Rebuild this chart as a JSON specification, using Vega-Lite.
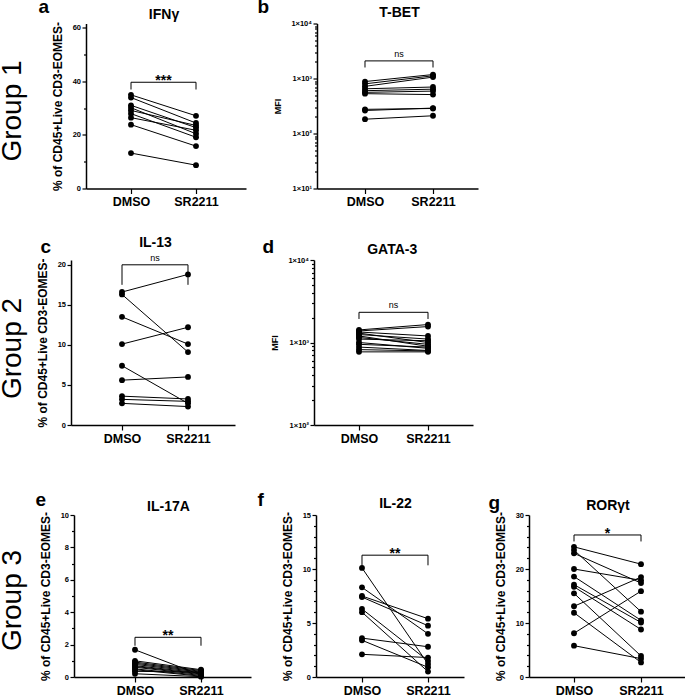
{
"$schema": "https://vega.github.io/schema/vega-lite/v6.json",
"padding": {"left": -9, "top": -2.5, "right": 0, "bottom": 0},
"config": {
 "view": {"stroke": null},
 "font": "Liberation Sans",
 "axis": {"grid": false, "domainColor": "black", "tickColor": "black", "labelColor": "black", "titleColor": "black", "labelFont": "Liberation Sans", "titleFont": "Liberation Sans", "labelFontWeight": "bold", "titleFontWeight": "bold", "domainWidth": 1.5, "tickWidth": 1.2},
 "title": {"color": "black", "font": "Liberation Sans", "fontWeight": "bold"}
},
"datasets": {
 "pts": [
  {"panel":"a","donor":1,"DMSO":34.9,"SR2211":27.1},
  {"panel":"a","donor":2,"DMSO":33.9,"SR2211":24.4},
  {"panel":"a","donor":3,"DMSO":31.0,"SR2211":22.7},
  {"panel":"a","donor":4,"DMSO":30.1,"SR2211":20.4},
  {"panel":"a","donor":5,"DMSO":29.1,"SR2211":23.5},
  {"panel":"a","donor":6,"DMSO":27.9,"SR2211":19.1},
  {"panel":"a","donor":7,"DMSO":26.4,"SR2211":21.7},
  {"panel":"a","donor":8,"DMSO":23.8,"SR2211":15.8},
  {"panel":"a","donor":9,"DMSO":13.2,"SR2211":8.7},
  {"panel":"b","donor":1,"DMSO":880,"SR2211":1180},
  {"panel":"b","donor":2,"DMSO":800,"SR2211":1120},
  {"panel":"b","donor":3,"DMSO":720,"SR2211":1060},
  {"panel":"b","donor":4,"DMSO":650,"SR2211":700},
  {"panel":"b","donor":5,"DMSO":600,"SR2211":640},
  {"panel":"b","donor":6,"DMSO":560,"SR2211":590},
  {"panel":"b","donor":7,"DMSO":530,"SR2211":510},
  {"panel":"b","donor":8,"DMSO":275,"SR2211":285},
  {"panel":"b","donor":9,"DMSO":262,"SR2211":290},
  {"panel":"b","donor":10,"DMSO":182,"SR2211":210},
  {"panel":"c","donor":1,"DMSO":16.6,"SR2211":18.8},
  {"panel":"c","donor":2,"DMSO":16.3,"SR2211":9.1},
  {"panel":"c","donor":3,"DMSO":13.5,"SR2211":10.1},
  {"panel":"c","donor":4,"DMSO":10.1,"SR2211":12.2},
  {"panel":"c","donor":5,"DMSO":7.4,"SR2211":2.7},
  {"panel":"c","donor":6,"DMSO":5.6,"SR2211":6.0},
  {"panel":"c","donor":7,"DMSO":3.6,"SR2211":3.25},
  {"panel":"c","donor":8,"DMSO":3.2,"SR2211":2.95},
  {"panel":"c","donor":9,"DMSO":2.7,"SR2211":2.3},
  {"panel":"d","donor":1,"DMSO":1420,"SR2211":1650},
  {"panel":"d","donor":2,"DMSO":1380,"SR2211":1560},
  {"panel":"d","donor":3,"DMSO":1340,"SR2211":1200},
  {"panel":"d","donor":4,"DMSO":1300,"SR2211":1000},
  {"panel":"d","donor":5,"DMSO":1250,"SR2211":1100},
  {"panel":"d","donor":6,"DMSO":1200,"SR2211":900},
  {"panel":"d","donor":7,"DMSO":1150,"SR2211":950},
  {"panel":"d","donor":8,"DMSO":1100,"SR2211":1050},
  {"panel":"d","donor":9,"DMSO":1000,"SR2211":850},
  {"panel":"d","donor":10,"DMSO":950,"SR2211":880},
  {"panel":"d","donor":11,"DMSO":880,"SR2211":800},
  {"panel":"d","donor":12,"DMSO":820,"SR2211":790},
  {"panel":"d","donor":13,"DMSO":770,"SR2211":770},
  {"panel":"e","donor":1,"DMSO":1.68,"SR2211":0.12},
  {"panel":"e","donor":2,"DMSO":1.0,"SR2211":0.45},
  {"panel":"e","donor":3,"DMSO":0.92,"SR2211":0.40},
  {"panel":"e","donor":4,"DMSO":0.85,"SR2211":0.35},
  {"panel":"e","donor":5,"DMSO":0.78,"SR2211":0.30},
  {"panel":"e","donor":6,"DMSO":0.70,"SR2211":0.25},
  {"panel":"e","donor":7,"DMSO":0.65,"SR2211":0.20},
  {"panel":"e","donor":8,"DMSO":0.60,"SR2211":0.15},
  {"panel":"e","donor":9,"DMSO":0.50,"SR2211":0.10},
  {"panel":"e","donor":10,"DMSO":0.45,"SR2211":0.05},
  {"panel":"e","donor":11,"DMSO":0.35,"SR2211":0.30},
  {"panel":"e","donor":12,"DMSO":0.20,"SR2211":0.02},
  {"panel":"f","donor":1,"DMSO":10.1,"SR2211":1.2},
  {"panel":"f","donor":2,"DMSO":8.3,"SR2211":4.0},
  {"panel":"f","donor":3,"DMSO":7.5,"SR2211":5.4},
  {"panel":"f","donor":4,"DMSO":7.4,"SR2211":4.75},
  {"panel":"f","donor":5,"DMSO":6.3,"SR2211":1.5},
  {"panel":"f","donor":6,"DMSO":6.0,"SR2211":0.5},
  {"panel":"f","donor":7,"DMSO":3.6,"SR2211":2.8},
  {"panel":"f","donor":8,"DMSO":3.4,"SR2211":0.9},
  {"panel":"f","donor":9,"DMSO":2.1,"SR2211":1.8},
  {"panel":"g","donor":1,"DMSO":24.1,"SR2211":20.9},
  {"panel":"g","donor":2,"DMSO":23.5,"SR2211":12.1},
  {"panel":"g","donor":3,"DMSO":22.9,"SR2211":17.4},
  {"panel":"g","donor":4,"DMSO":20.0,"SR2211":17.9},
  {"panel":"g","donor":5,"DMSO":18.6,"SR2211":10.5},
  {"panel":"g","donor":6,"DMSO":17.1,"SR2211":10.1},
  {"panel":"g","donor":7,"DMSO":16.7,"SR2211":8.8},
  {"panel":"g","donor":8,"DMSO":15.5,"SR2211":3.9},
  {"panel":"g","donor":9,"DMSO":13.1,"SR2211":18.5},
  {"panel":"g","donor":10,"DMSO":11.9,"SR2211":2.7},
  {"panel":"g","donor":11,"DMSO":8.1,"SR2211":15.9},
  {"panel":"g","donor":12,"DMSO":5.8,"SR2211":3.4}
 ],
 "brk": [
  {"panel":"a","cond":"DMSO","value":36.9,"o":1},{"panel":"a","cond":"DMSO","value":39.6,"o":2},{"panel":"a","cond":"SR2211","value":39.6,"o":3},{"panel":"a","cond":"SR2211","value":36.9,"o":4},
  {"panel":"b","cond":"DMSO","value":1585,"o":1},{"panel":"b","cond":"DMSO","value":2090,"o":2},{"panel":"b","cond":"SR2211","value":2090,"o":3},{"panel":"b","cond":"SR2211","value":1585,"o":4},
  {"panel":"c","cond":"DMSO","value":17.5,"o":1},{"panel":"c","cond":"DMSO","value":20.0,"o":2},{"panel":"c","cond":"SR2211","value":20.0,"o":3},{"panel":"c","cond":"SR2211","value":17.5,"o":4},
  {"panel":"d","cond":"DMSO","value":1928,"o":1},{"panel":"d","cond":"DMSO","value":2323,"o":2},{"panel":"d","cond":"SR2211","value":2323,"o":3},{"panel":"d","cond":"SR2211","value":1928,"o":4},
  {"panel":"e","cond":"DMSO","value":1.93,"o":1},{"panel":"e","cond":"DMSO","value":2.45,"o":2},{"panel":"e","cond":"SR2211","value":2.45,"o":3},{"panel":"e","cond":"SR2211","value":1.93,"o":4},
  {"panel":"f","cond":"DMSO","value":10.34,"o":1},{"panel":"f","cond":"DMSO","value":11.28,"o":2},{"panel":"f","cond":"SR2211","value":11.28,"o":3},{"panel":"f","cond":"SR2211","value":10.34,"o":4},
  {"panel":"g","cond":"DMSO","value":25.1,"o":1},{"panel":"g","cond":"DMSO","value":26.3,"o":2},{"panel":"g","cond":"SR2211","value":26.3,"o":3},{"panel":"g","cond":"SR2211","value":25.1,"o":4}
 ],
 "sig": [
  {"panel":"a","cond":"mid","value":39.6,"label":"***"},
  {"panel":"b","cond":"mid","value":2090,"label":"ns"},
  {"panel":"c","cond":"mid","value":20.0,"label":"ns"},
  {"panel":"d","cond":"mid","value":2323,"label":"ns"},
  {"panel":"e","cond":"mid","value":2.45,"label":"**"},
  {"panel":"f","cond":"mid","value":11.28,"label":"**"},
  {"panel":"g","cond":"mid","value":26.3,"label":"*"}
 ]
},
"spacing": 45.5,
"vconcat": [
 {
 "spacing": 26.5,
 "vconcat": [
  {
  "bounds": "flush",
  "spacing": 71,
  "hconcat": [
   {"width": 24, "height": 1, "data": {"values": [{}]}, "mark": "text", "encoding": {"text": {"value": ""}}},
   {
    "width": 160, "height": 165,
    "resolve": {"axis": {"x": "independent", "y": "independent"}},
    "layer": [
     {"data": {"name": "pts"}, "transform": [{"filter": "datum.panel=='a'"}, {"fold": ["DMSO", "SR2211"], "as": ["cond", "value"]}],
      "mark": {"type": "line", "color": "black", "strokeWidth": 1},
      "encoding": {
       "x": {"field": "cond", "type": "nominal", "scale": {"type": "point", "domain": ["L", "DMSO", "mid", "SR2211", "R"], "padding": 0.4615, "align": 0.4167}, "axis": {"orient": "top", "title": "IFNγ", "labels": false, "ticks": false, "domain": false, "titleFontSize": 14, "titleX": 77.5, "titleY": -5, "titleAlign": "center", "titleBaseline": "alphabetic"}},
       "y": {"field": "value", "type": "quantitative", "scale": {"domain": [0, 61.5], "nice": false}, "axis": {"title": "% of CD45+Live CD3-EOMES-", "values": [0, 10, 20, 30, 40, 50, 60], "labelExpr": "datum.value % 20 == 0 ? datum.label : ''", "tickSize": {"condition": {"test": "datum.value % 20 == 0", "value": 4}, "value": 2.5}, "labelFontSize": 7.5, "labelPadding": 1.5, "titleFontSize": 12, "titlePadding": 8}},
       "detail": {"field": "donor", "type": "nominal"}}},
     {"data": {"name": "pts"}, "transform": [{"filter": "datum.panel=='a'"}, {"fold": ["DMSO", "SR2211"], "as": ["cond", "value"]}],
      "mark": {"type": "circle", "color": "black", "size": 34, "opacity": 1},
      "encoding": {
       "x": {"field": "cond", "type": "nominal", "scale": {"type": "point", "domain": ["L", "DMSO", "mid", "SR2211", "R"], "padding": 0.4615, "align": 0.4167}, "axis": {"orient": "bottom", "values": ["DMSO", "SR2211"], "title": null, "labelFontSize": 12.5, "tickSize": 5, "labelPadding": 2, "labelAngle": 0}},
       "y": {"field": "value", "type": "quantitative", "scale": {"domain": [0, 61.5], "nice": false}, "axis": {"orient": "right", "title": "Group 1", "labels": false, "ticks": false, "domain": false, "titleFontSize": 28, "titleFontWeight": "normal", "titleAngle": 270, "titleAlign": "center", "titleBaseline": "middle", "titleX": -234, "titleY": 87}}}},
     {"data": {"name": "brk"}, "transform": [{"filter": "datum.panel=='a'"}],
      "mark": {"type": "line", "color": "black", "strokeWidth": 1},
      "encoding": {
       "x": {"field": "cond", "type": "nominal", "scale": {"type": "point", "domain": ["L", "DMSO", "mid", "SR2211", "R"], "padding": 0.4615, "align": 0.4167}, "axis": {"orient": "top", "title": "a", "labels": false, "ticks": false, "domain": false, "titleFontSize": 19, "titleX": -48, "titleY": -11, "titleAlign": "left", "titleBaseline": "alphabetic"}},
       "y": {"field": "value", "type": "quantitative", "scale": {"domain": [0, 61.5], "nice": false}, "axis": null},
       "order": {"field": "o", "type": "quantitative"}}},
     {"data": {"name": "sig"}, "transform": [{"filter": "datum.panel=='a'"}],
      "mark": {"type": "text", "font": "Liberation Sans", "fontWeight": "bold", "fontSize": 14, "baseline": "alphabetic", "dy": 3, "color": "black"},
      "encoding": {
       "x": {"field": "cond", "type": "nominal", "scale": {"type": "point", "domain": ["L", "DMSO", "mid", "SR2211", "R"], "padding": 0.4615, "align": 0.4167}, "axis": null},
       "y": {"field": "value", "type": "quantitative", "scale": {"domain": [0, 61.5], "nice": false}, "axis": null},
       "text": {"field": "label"}}}
    ]
   },
   {
    "width": 161, "height": 165,
    "resolve": {"axis": {"x": "independent", "y": "independent"}},
    "layer": [
     {"data": {"name": "pts"}, "transform": [{"filter": "datum.panel=='b'"}, {"fold": ["DMSO", "SR2211"], "as": ["cond", "value"]}],
      "mark": {"type": "line", "color": "black", "strokeWidth": 1},
      "encoding": {
       "x": {"field": "cond", "type": "nominal", "scale": {"type": "point", "domain": ["L", "DMSO", "mid", "SR2211", "R"], "padding": 0.3676, "align": 0.56}, "axis": {"orient": "top", "title": "T-BET", "labels": false, "ticks": false, "domain": false, "titleFontSize": 14, "titleX": 82, "titleY": -7, "titleAlign": "center", "titleBaseline": "alphabetic"}},
       "y": {"field": "value", "type": "quantitative", "scale": {"type": "log", "domain": [10, 10000], "nice": false}, "axis": {"title": "MFI", "values": [10, 20, 30, 40, 50, 60, 70, 80, 90, 100, 200, 300, 400, 500, 600, 700, 800, 900, 1000, 2000, 3000, 4000, 5000, 6000, 7000, 8000, 9000, 10000], "labelExpr": "datum.value == 10 ? '1×10¹' : datum.value == 100 ? '1×10²' : datum.value == 1000 ? '1×10³' : datum.value == 10000 ? '1×10⁴' : ''", "tickSize": {"condition": {"test": "datum.value == 10 || datum.value == 100 || datum.value == 1000 || datum.value == 10000", "value": 4}, "value": 2.5}, "labelFontSize": 7.5, "labelPadding": 1.5, "labelOverlap": false, "titleFontSize": 9, "titlePadding": 8}},
       "detail": {"field": "donor", "type": "nominal"}}},
     {"data": {"name": "pts"}, "transform": [{"filter": "datum.panel=='b'"}, {"fold": ["DMSO", "SR2211"], "as": ["cond", "value"]}],
      "mark": {"type": "circle", "color": "black", "size": 34, "opacity": 1},
      "encoding": {
       "x": {"field": "cond", "type": "nominal", "scale": {"type": "point", "domain": ["L", "DMSO", "mid", "SR2211", "R"], "padding": 0.3676, "align": 0.56}, "axis": {"orient": "bottom", "values": ["DMSO", "SR2211"], "title": null, "labelFontSize": 12.5, "tickSize": 5, "labelPadding": 2, "labelAngle": 0}},
       "y": {"field": "value", "type": "quantitative", "scale": {"type": "log", "domain": [10, 10000], "nice": false}, "axis": null}}},
     {"data": {"name": "brk"}, "transform": [{"filter": "datum.panel=='b'"}],
      "mark": {"type": "line", "color": "black", "strokeWidth": 1},
      "encoding": {
       "x": {"field": "cond", "type": "nominal", "scale": {"type": "point", "domain": ["L", "DMSO", "mid", "SR2211", "R"], "padding": 0.3676, "align": 0.56}, "axis": {"orient": "top", "title": "b", "labels": false, "ticks": false, "domain": false, "titleFontSize": 19, "titleX": -60, "titleY": -11, "titleAlign": "left", "titleBaseline": "alphabetic"}},
       "y": {"field": "value", "type": "quantitative", "scale": {"type": "log", "domain": [10, 10000], "nice": false}, "axis": null},
       "order": {"field": "o", "type": "quantitative"}}},
     {"data": {"name": "sig"}, "transform": [{"filter": "datum.panel=='b'"}],
      "mark": {"type": "text", "font": "Liberation Sans", "fontWeight": "normal", "fontSize": 9, "baseline": "alphabetic", "dy": -4, "color": "black"},
      "encoding": {
       "x": {"field": "cond", "type": "nominal", "scale": {"type": "point", "domain": ["L", "DMSO", "mid", "SR2211", "R"], "padding": 0.3676, "align": 0.56}, "axis": null},
       "y": {"field": "value", "type": "quantitative", "scale": {"type": "log", "domain": [10, 10000], "nice": false}, "axis": null},
       "text": {"field": "label"}}}
    ]
   }
  ]
  },
  {
  "bounds": "flush",
  "spacing": 79,
  "hconcat": [
   {"width": 1, "height": 1, "data": {"values": [{}]}, "mark": "text", "encoding": {"text": {"value": ""}}},
   {
    "width": 164, "height": 165,
    "resolve": {"axis": {"x": "independent", "y": "independent"}},
    "layer": [
     {"data": {"name": "pts"}, "transform": [{"filter": "datum.panel=='c'"}, {"fold": ["DMSO", "SR2211"], "as": ["cond", "value"]}],
      "mark": {"type": "line", "color": "black", "strokeWidth": 1},
      "encoding": {
       "x": {"field": "cond", "type": "nominal", "scale": {"type": "point", "domain": ["L", "DMSO", "mid", "SR2211", "R"], "padding": 0.485, "align": 0.5625}, "axis": {"orient": "top", "title": "IL-13", "labels": false, "ticks": false, "domain": false, "titleFontSize": 14, "titleX": 84, "titleY": -14, "titleAlign": "center", "titleBaseline": "alphabetic"}},
       "y": {"field": "value", "type": "quantitative", "scale": {"domain": [0, 20.6], "nice": false}, "axis": {"title": "% of CD45+Live CD3-EOMES-", "values": [0, 5, 10, 15, 20], "tickSize": 4, "labelFontSize": 7.5, "labelPadding": 1.5, "titleFontSize": 12, "titlePadding": 8}},
       "detail": {"field": "donor", "type": "nominal"}}},
     {"data": {"name": "pts"}, "transform": [{"filter": "datum.panel=='c'"}, {"fold": ["DMSO", "SR2211"], "as": ["cond", "value"]}],
      "mark": {"type": "circle", "color": "black", "size": 34, "opacity": 1},
      "encoding": {
       "x": {"field": "cond", "type": "nominal", "scale": {"type": "point", "domain": ["L", "DMSO", "mid", "SR2211", "R"], "padding": 0.485, "align": 0.5625}, "axis": {"orient": "bottom", "values": ["DMSO", "SR2211"], "title": null, "labelFontSize": 12.5, "tickSize": 5, "labelPadding": 2, "labelAngle": 0}},
       "y": {"field": "value", "type": "quantitative", "scale": {"domain": [0, 20.6], "nice": false}, "axis": {"orient": "right", "title": "Group 2", "labels": false, "ticks": false, "domain": false, "titleFontSize": 28, "titleFontWeight": "normal", "titleAngle": 270, "titleAlign": "center", "titleBaseline": "middle", "titleX": -223, "titleY": 88}}}},
     {"data": {"name": "brk"}, "transform": [{"filter": "datum.panel=='c'"}],
      "mark": {"type": "line", "color": "black", "strokeWidth": 1},
      "encoding": {
       "x": {"field": "cond", "type": "nominal", "scale": {"type": "point", "domain": ["L", "DMSO", "mid", "SR2211", "R"], "padding": 0.485, "align": 0.5625}, "axis": {"orient": "top", "title": "c", "labels": false, "ticks": false, "domain": false, "titleFontSize": 19, "titleX": -31, "titleY": -8, "titleAlign": "left", "titleBaseline": "alphabetic"}},
       "y": {"field": "value", "type": "quantitative", "scale": {"domain": [0, 20.6], "nice": false}, "axis": null},
       "order": {"field": "o", "type": "quantitative"}}},
     {"data": {"name": "sig"}, "transform": [{"filter": "datum.panel=='c'"}],
      "mark": {"type": "text", "font": "Liberation Sans", "fontWeight": "normal", "fontSize": 9, "baseline": "alphabetic", "dy": -4, "color": "black"},
      "encoding": {
       "x": {"field": "cond", "type": "nominal", "scale": {"type": "point", "domain": ["L", "DMSO", "mid", "SR2211", "R"], "padding": 0.485, "align": 0.5625}, "axis": null},
       "y": {"field": "value", "type": "quantitative", "scale": {"domain": [0, 20.6], "nice": false}, "axis": null},
       "text": {"field": "label"}}}
    ]
   },
   {
    "width": 159, "height": 165,
    "resolve": {"axis": {"x": "independent", "y": "independent"}},
    "layer": [
     {"data": {"name": "pts"}, "transform": [{"filter": "datum.panel=='d'"}, {"fold": ["DMSO", "SR2211"], "as": ["cond", "value"]}],
      "mark": {"type": "line", "color": "black", "strokeWidth": 1},
      "encoding": {
       "x": {"field": "cond", "type": "nominal", "scale": {"type": "point", "domain": ["L", "DMSO", "mid", "SR2211", "R"], "padding": 0.3043, "align": 0.5}, "axis": {"orient": "top", "title": "GATA-3", "labels": false, "ticks": false, "domain": false, "titleFontSize": 14, "titleX": 77.7, "titleY": -7, "titleAlign": "center", "titleBaseline": "alphabetic"}},
       "y": {"field": "value", "type": "quantitative", "scale": {"type": "log", "domain": [100, 10000], "nice": false}, "axis": {"title": "MFI", "values": [100, 200, 300, 400, 500, 600, 700, 800, 900, 1000, 2000, 3000, 4000, 5000, 6000, 7000, 8000, 9000, 10000], "labelExpr": "datum.value == 100 ? '1×10²' : datum.value == 1000 ? '1×10³' : datum.value == 10000 ? '1×10⁴' : ''", "tickSize": {"condition": {"test": "datum.value == 100 || datum.value == 1000 || datum.value == 10000", "value": 4}, "value": 2.5}, "labelFontSize": 7.5, "labelPadding": 1.5, "labelOverlap": false, "titleFontSize": 9, "titlePadding": 8}},
       "detail": {"field": "donor", "type": "nominal"}}},
     {"data": {"name": "pts"}, "transform": [{"filter": "datum.panel=='d'"}, {"fold": ["DMSO", "SR2211"], "as": ["cond", "value"]}],
      "mark": {"type": "circle", "color": "black", "size": 34, "opacity": 1},
      "encoding": {
       "x": {"field": "cond", "type": "nominal", "scale": {"type": "point", "domain": ["L", "DMSO", "mid", "SR2211", "R"], "padding": 0.3043, "align": 0.5}, "axis": {"orient": "bottom", "values": ["DMSO", "SR2211"], "title": null, "labelFontSize": 12.5, "tickSize": 5, "labelPadding": 2, "labelAngle": 0}},
       "y": {"field": "value", "type": "quantitative", "scale": {"type": "log", "domain": [100, 10000], "nice": false}, "axis": null}}},
     {"data": {"name": "brk"}, "transform": [{"filter": "datum.panel=='d'"}],
      "mark": {"type": "line", "color": "black", "strokeWidth": 1},
      "encoding": {
       "x": {"field": "cond", "type": "nominal", "scale": {"type": "point", "domain": ["L", "DMSO", "mid", "SR2211", "R"], "padding": 0.3043, "align": 0.5}, "axis": {"orient": "top", "title": "d", "labels": false, "ticks": false, "domain": false, "titleFontSize": 19, "titleX": -52, "titleY": -8, "titleAlign": "left", "titleBaseline": "alphabetic"}},
       "y": {"field": "value", "type": "quantitative", "scale": {"type": "log", "domain": [100, 10000], "nice": false}, "axis": null},
       "order": {"field": "o", "type": "quantitative"}}},
     {"data": {"name": "sig"}, "transform": [{"filter": "datum.panel=='d'"}],
      "mark": {"type": "text", "font": "Liberation Sans", "fontWeight": "normal", "fontSize": 9, "baseline": "alphabetic", "dy": -4, "color": "black"},
      "encoding": {
       "x": {"field": "cond", "type": "nominal", "scale": {"type": "point", "domain": ["L", "DMSO", "mid", "SR2211", "R"], "padding": 0.3043, "align": 0.5}, "axis": null},
       "y": {"field": "value", "type": "quantitative", "scale": {"type": "log", "domain": [100, 10000], "nice": false}, "axis": null},
       "text": {"field": "label"}}}
    ]
   }
  ]
  }
 ]
 },
 {
 "bounds": "flush",
 "spacing": 65,
 "hconcat": [
  {"width": 18, "height": 1, "data": {"values": [{}]}, "mark": "text", "encoding": {"text": {"value": ""}}},
  {
   "width": 177, "height": 162,
   "resolve": {"axis": {"x": "independent", "y": "independent"}},
   "layer": [
    {"data": {"name": "pts"}, "transform": [{"filter": "datum.panel=='e'"}, {"fold": ["DMSO", "SR2211"], "as": ["cond", "value"]}],
     "mark": {"type": "line", "color": "black", "strokeWidth": 1},
     "encoding": {
      "x": {"field": "cond", "type": "nominal", "scale": {"type": "point", "domain": ["L", "DMSO", "mid", "SR2211", "R"], "padding": 0.682, "align": 0.622}, "axis": {"orient": "top", "title": "IL-17A", "labels": false, "ticks": false, "domain": false, "titleFontSize": 14, "titleX": 94, "titleY": -5, "titleAlign": "center", "titleBaseline": "alphabetic"}},
      "y": {"field": "value", "type": "quantitative", "scale": {"domain": [0, 10], "nice": false}, "axis": {"title": "% of CD45+Live CD3-EOMES-", "values": [0, 1, 2, 3, 4, 5, 6, 7, 8, 9, 10], "labelExpr": "datum.value % 2 == 0 ? datum.label : ''", "tickSize": {"condition": {"test": "datum.value % 2 == 0", "value": 4}, "value": 2.5}, "labelFontSize": 7.5, "labelPadding": 1.5, "titleFontSize": 12, "titlePadding": 8}},
      "detail": {"field": "donor", "type": "nominal"}}},
    {"data": {"name": "pts"}, "transform": [{"filter": "datum.panel=='e'"}, {"fold": ["DMSO", "SR2211"], "as": ["cond", "value"]}],
     "mark": {"type": "circle", "color": "black", "size": 34, "opacity": 1},
     "encoding": {
      "x": {"field": "cond", "type": "nominal", "scale": {"type": "point", "domain": ["L", "DMSO", "mid", "SR2211", "R"], "padding": 0.682, "align": 0.622}, "axis": {"orient": "bottom", "values": ["DMSO", "SR2211"], "title": null, "labelFontSize": 12.5, "tickSize": 5, "labelPadding": 2, "labelAngle": 0}},
      "y": {"field": "value", "type": "quantitative", "scale": {"domain": [0, 10], "nice": false}, "axis": {"orient": "right", "title": "Group 3", "labels": false, "ticks": false, "domain": false, "titleFontSize": 28, "titleFontWeight": "normal", "titleAngle": 270, "titleAlign": "center", "titleBaseline": "middle", "titleX": -239, "titleY": 85}}}},
    {"data": {"name": "brk"}, "transform": [{"filter": "datum.panel=='e'"}],
     "mark": {"type": "line", "color": "black", "strokeWidth": 1},
     "encoding": {
      "x": {"field": "cond", "type": "nominal", "scale": {"type": "point", "domain": ["L", "DMSO", "mid", "SR2211", "R"], "padding": 0.682, "align": 0.622}, "axis": {"orient": "top", "title": "e", "labels": false, "ticks": false, "domain": false, "titleFontSize": 19, "titleX": -39, "titleY": -10, "titleAlign": "left", "titleBaseline": "alphabetic"}},
      "y": {"field": "value", "type": "quantitative", "scale": {"domain": [0, 10], "nice": false}, "axis": null},
      "order": {"field": "o", "type": "quantitative"}}},
    {"data": {"name": "sig"}, "transform": [{"filter": "datum.panel=='e'"}],
     "mark": {"type": "text", "font": "Liberation Sans", "fontWeight": "bold", "fontSize": 14, "baseline": "alphabetic", "dy": 3, "color": "black"},
     "encoding": {
      "x": {"field": "cond", "type": "nominal", "scale": {"type": "point", "domain": ["L", "DMSO", "mid", "SR2211", "R"], "padding": 0.682, "align": 0.622}, "axis": null},
      "y": {"field": "value", "type": "quantitative", "scale": {"domain": [0, 10], "nice": false}, "axis": null},
      "text": {"field": "label"}}}
   ]
  },
  {
   "width": 148, "height": 162,
   "resolve": {"axis": {"x": "independent", "y": "independent"}},
   "layer": [
    {"data": {"name": "pts"}, "transform": [{"filter": "datum.panel=='f'"}, {"fold": ["DMSO", "SR2211"], "as": ["cond", "value"]}],
     "mark": {"type": "line", "color": "black", "strokeWidth": 1},
     "encoding": {
      "x": {"field": "cond", "type": "nominal", "scale": {"type": "point", "domain": ["L", "DMSO", "mid", "SR2211", "R"], "padding": 0.242, "align": 0.8125}, "axis": {"orient": "top", "title": "IL-22", "labels": false, "ticks": false, "domain": false, "titleFontSize": 14, "titleX": 79, "titleY": -8, "titleAlign": "center", "titleBaseline": "alphabetic"}},
      "y": {"field": "value", "type": "quantitative", "scale": {"domain": [0, 15], "nice": false}, "axis": {"title": "% of CD45+Live CD3-EOMES-", "values": [0, 1, 2, 3, 4, 5, 6, 7, 8, 9, 10, 11, 12, 13, 14, 15], "labelExpr": "datum.value % 5 == 0 ? datum.label : ''", "tickSize": {"condition": {"test": "datum.value % 5 == 0", "value": 4}, "value": 2.5}, "labelFontSize": 7.5, "labelPadding": 1.5, "titleFontSize": 12, "titlePadding": 8}},
      "detail": {"field": "donor", "type": "nominal"}}},
    {"data": {"name": "pts"}, "transform": [{"filter": "datum.panel=='f'"}, {"fold": ["DMSO", "SR2211"], "as": ["cond", "value"]}],
     "mark": {"type": "circle", "color": "black", "size": 34, "opacity": 1},
     "encoding": {
      "x": {"field": "cond", "type": "nominal", "scale": {"type": "point", "domain": ["L", "DMSO", "mid", "SR2211", "R"], "padding": 0.242, "align": 0.8125}, "axis": {"orient": "bottom", "values": ["DMSO", "SR2211"], "title": null, "labelFontSize": 12.5, "tickSize": 5, "labelPadding": 2, "labelAngle": 0}},
      "y": {"field": "value", "type": "quantitative", "scale": {"domain": [0, 15], "nice": false}, "axis": null}}},
    {"data": {"name": "brk"}, "transform": [{"filter": "datum.panel=='f'"}],
     "mark": {"type": "line", "color": "black", "strokeWidth": 1},
     "encoding": {
      "x": {"field": "cond", "type": "nominal", "scale": {"type": "point", "domain": ["L", "DMSO", "mid", "SR2211", "R"], "padding": 0.242, "align": 0.8125}, "axis": {"orient": "top", "title": "f", "labels": false, "ticks": false, "domain": false, "titleFontSize": 19, "titleX": -59, "titleY": -10, "titleAlign": "left", "titleBaseline": "alphabetic"}},
      "y": {"field": "value", "type": "quantitative", "scale": {"domain": [0, 15], "nice": false}, "axis": null},
      "order": {"field": "o", "type": "quantitative"}}},
    {"data": {"name": "sig"}, "transform": [{"filter": "datum.panel=='f'"}],
     "mark": {"type": "text", "font": "Liberation Sans", "fontWeight": "bold", "fontSize": 14, "baseline": "alphabetic", "dy": 3, "color": "black"},
     "encoding": {
      "x": {"field": "cond", "type": "nominal", "scale": {"type": "point", "domain": ["L", "DMSO", "mid", "SR2211", "R"], "padding": 0.242, "align": 0.8125}, "axis": null},
      "y": {"field": "value", "type": "quantitative", "scale": {"domain": [0, 15], "nice": false}, "axis": null},
      "text": {"field": "label"}}}
   ]
  },
  {
   "width": 156, "height": 162,
   "resolve": {"axis": {"x": "independent", "y": "independent"}},
   "layer": [
    {"data": {"name": "pts"}, "transform": [{"filter": "datum.panel=='g'"}, {"fold": ["DMSO", "SR2211"], "as": ["cond", "value"]}],
     "mark": {"type": "line", "color": "black", "strokeWidth": 1},
     "encoding": {
      "x": {"field": "cond", "type": "nominal", "scale": {"type": "point", "domain": ["L", "DMSO", "mid", "SR2211", "R"], "padding": 0.328, "align": 0.523}, "axis": {"orient": "top", "title": "RORγt", "labels": false, "ticks": false, "domain": false, "titleFontSize": 14, "titleX": 78.5, "titleY": -6, "titleAlign": "center", "titleBaseline": "alphabetic"}},
      "y": {"field": "value", "type": "quantitative", "scale": {"domain": [0, 30], "nice": false}, "axis": {"title": "% of CD45+Live CD3-EOMES-", "values": [0, 2, 4, 6, 8, 10, 12, 14, 16, 18, 20, 22, 24, 26, 28, 30], "labelExpr": "datum.value % 10 == 0 ? datum.label : ''", "tickSize": {"condition": {"test": "datum.value % 10 == 0", "value": 4}, "value": 2.5}, "labelFontSize": 7.5, "labelPadding": 1.5, "titleFontSize": 12, "titlePadding": 8}},
      "detail": {"field": "donor", "type": "nominal"}}},
    {"data": {"name": "pts"}, "transform": [{"filter": "datum.panel=='g'"}, {"fold": ["DMSO", "SR2211"], "as": ["cond", "value"]}],
     "mark": {"type": "circle", "color": "black", "size": 34, "opacity": 1},
     "encoding": {
      "x": {"field": "cond", "type": "nominal", "scale": {"type": "point", "domain": ["L", "DMSO", "mid", "SR2211", "R"], "padding": 0.328, "align": 0.523}, "axis": {"orient": "bottom", "values": ["DMSO", "SR2211"], "title": null, "labelFontSize": 12.5, "tickSize": 5, "labelPadding": 2, "labelAngle": 0}},
      "y": {"field": "value", "type": "quantitative", "scale": {"domain": [0, 30], "nice": false}, "axis": null}}},
    {"data": {"name": "brk"}, "transform": [{"filter": "datum.panel=='g'"}],
     "mark": {"type": "line", "color": "black", "strokeWidth": 1},
     "encoding": {
      "x": {"field": "cond", "type": "nominal", "scale": {"type": "point", "domain": ["L", "DMSO", "mid", "SR2211", "R"], "padding": 0.328, "align": 0.523}, "axis": {"orient": "top", "title": "g", "labels": false, "ticks": false, "domain": false, "titleFontSize": 19, "titleX": -41, "titleY": -7, "titleAlign": "left", "titleBaseline": "alphabetic"}},
      "y": {"field": "value", "type": "quantitative", "scale": {"domain": [0, 30], "nice": false}, "axis": null},
      "order": {"field": "o", "type": "quantitative"}}},
    {"data": {"name": "sig"}, "transform": [{"filter": "datum.panel=='g'"}],
     "mark": {"type": "text", "font": "Liberation Sans", "fontWeight": "bold", "fontSize": 14, "baseline": "alphabetic", "dy": 3, "color": "black"},
     "encoding": {
      "x": {"field": "cond", "type": "nominal", "scale": {"type": "point", "domain": ["L", "DMSO", "mid", "SR2211", "R"], "padding": 0.328, "align": 0.523}, "axis": null},
      "y": {"field": "value", "type": "quantitative", "scale": {"domain": [0, 30], "nice": false}, "axis": null},
      "text": {"field": "label"}}}
   ]
  }
 ]
 }
]
}
